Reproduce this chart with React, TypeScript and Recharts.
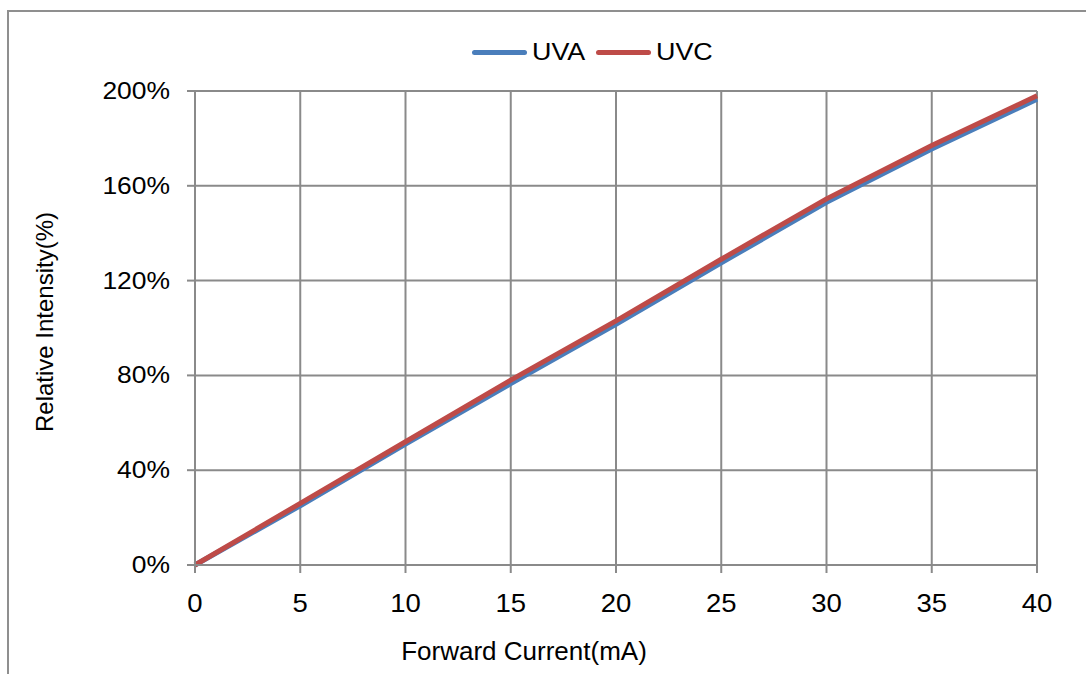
import React from 'react';
import { LineChart, Line, XAxis, YAxis, CartesianGrid, Legend } from 'recharts';

const currents = [0, 5, 10, 15, 20, 25, 30, 35, 40];
const uvaValues = [0, 25, 51, 76.5, 101.5, 127.5, 153, 175.5, 196.5];
const uvcValues = [0, 26, 52, 78, 103, 129, 154.5, 177, 198];
const xTicks = [0, 5, 10, 15, 20, 25, 30, 35, 40];
const yTicks = [0, 40, 80, 120, 160, 200];
const seriesNames = ['UVA', 'UVC'];
const seriesColors = ['#4a7ebb', '#be4b48'];

const data = currents.map((c, i) => ({ current: c, UVA: uvaValues[i], UVC: uvcValues[i] }));

const FONT = '"Liberation Sans", Arial, sans-serif';
const GRID = '#8a8a8a';

const XTick = (props: any) => {
  const { x, y, payload } = props;
  return (
    <text
      x={0}
      y={0}
      transform={`translate(${x} ${y + 39}) scale(1.1 1)`}
      textAnchor="middle"
      fontFamily={FONT}
      fontSize={25}
      fill="#000"
    >
      {payload.value}
    </text>
  );
};

const YTick = (props: any) => {
  const { x, y, payload } = props;
  return (
    <text
      x={0}
      y={0}
      transform={`translate(${x} ${y + 8}) scale(1.15 1)`}
      textAnchor="end"
      fontFamily={FONT}
      fontSize={23}
      fill="#000"
    >
      {payload.value + '%'}
    </text>
  );
};

const LegendContent = (props: any) => {
  const payload = props.payload || [];
  return (
    <div style={{ position: 'relative', height: 30 }}>
      {payload.map((p: any, i: number) => {
        const left = 472 + i * 124;
        return (
          <div key={i} style={{ position: 'absolute', left, top: 0, display: 'flex', alignItems: 'center', height: 30 }}>
            <div style={{ width: 55, height: 5, borderRadius: 3, background: p.color }} />
            <span
              style={{
                fontFamily: FONT,
                fontSize: 24,
                color: '#000',
                marginLeft: 5,
                lineHeight: '30px',
                display: 'inline-block',
                transform: 'scaleX(1.12)',
                transformOrigin: 'left center',
              }}
            >
              {p.value}
            </span>
          </div>
        );
      })}
    </div>
  );
};

export default function App() {
  return (
    <div style={{ position: 'absolute', left: 0, top: 0, width: 1086, height: 674, overflow: 'hidden', background: '#fff' }}>
      <div style={{ position: 'absolute', left: 7, top: 10, width: 1200, height: 800, border: '2px solid #8f8f8f' }} />
      <div style={{ position: 'absolute', left: 0, top: 0 }}>
        <LineChart width={1086} height={674} data={data} margin={{ top: 91, right: 49, left: 0, bottom: 49 }}>
          <CartesianGrid stroke={GRID} strokeWidth={2} horizontalValues={yTicks} verticalValues={xTicks} />
          <XAxis
            dataKey="current"
            type="number"
            domain={[0, 40]}
            ticks={xTicks}
            height={60}
            stroke={GRID}
            strokeWidth={2}
            tickSize={8}
            tickMargin={0}
            tick={<XTick />}
            interval={0}
            label={{
              content: () => (
                <text x={524} y={660} textAnchor="middle" fontFamily={FONT} fontSize={26} fill="#000">
                  Forward Current(mA)
                </text>
              ),
            }}
          />
          <YAxis
            type="number"
            domain={[0, 200]}
            ticks={yTicks}
            width={195}
            stroke={GRID}
            strokeWidth={2}
            tickSize={8}
            tickMargin={17}
            tick={<YTick />}
            interval={0}
            label={{
              content: () => (
                <text
                  x={0}
                  y={0}
                  transform="translate(53 322) rotate(-90)"
                  textAnchor="middle"
                  fontFamily={FONT}
                  fontSize={24}
                  fill="#000"
                >
                  Relative Intensity(%)
                </text>
              ),
            }}
          />
          <Legend
            verticalAlign="middle"
            layout="horizontal"
            align="center"
            wrapperStyle={{ top: 37, left: 0, width: 1086 }}
            content={<LegendContent />}
          />
          {seriesNames.map((name, i) => (
            <Line
              key={name}
              type="linear"
              dataKey={name}
              name={name}
              stroke={seriesColors[i]}
              strokeWidth={5}
              dot={false}
              isAnimationActive={false}
            />
          ))}
        </LineChart>
      </div>
    </div>
  );
}
